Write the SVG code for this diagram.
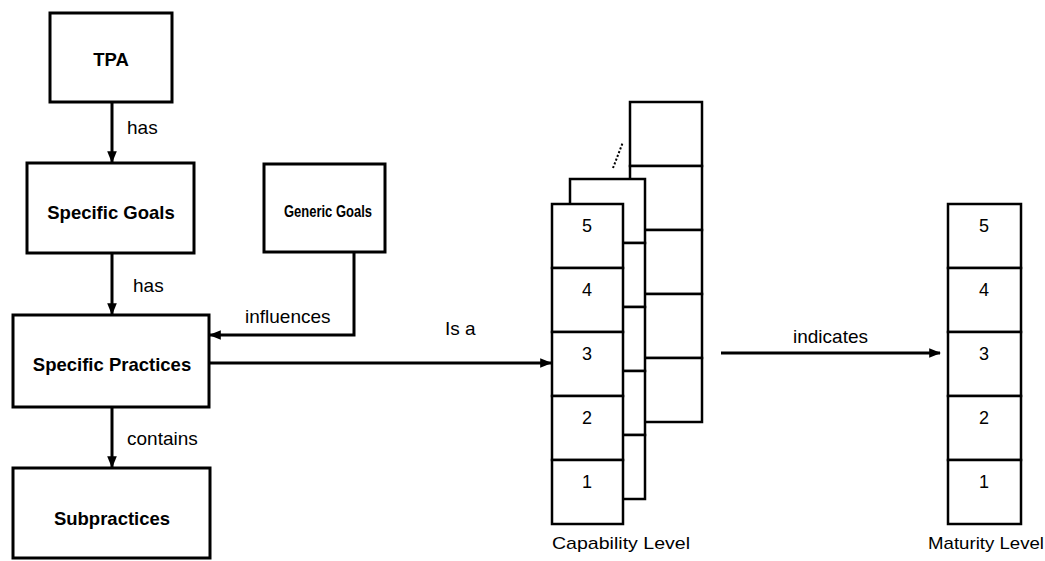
<svg xmlns="http://www.w3.org/2000/svg" width="1045" height="561" viewBox="0 0 1045 561">
<style>
.box{fill:#fff;stroke:#000;stroke-width:3}
.cell{fill:#fff;stroke:#000;stroke-width:2.5}
.node{font-family:"Liberation Sans",Arial,sans-serif;font-weight:bold;font-size:18.5px;text-anchor:middle;dominant-baseline:central;fill:#000}
.lbl{font-family:"Liberation Sans",Arial,sans-serif;font-size:19px;fill:#000}
.num{font-family:"Liberation Sans",Arial,sans-serif;font-size:18px;text-anchor:middle;fill:#000}
.conn{fill:none;stroke:#000;stroke-width:3}
</style>
<defs>
<marker id="ah" viewBox="0 0 10 10" refX="9" refY="5" markerWidth="4" markerHeight="4" orient="auto" markerUnits="strokeWidth">
<path d="M0,1 L10,5 L0,9 Z" fill="#000"/>
</marker>
</defs>
<g id="tpa"><rect class="box" x="50" y="13" width="122" height="89"/><text class="node" x="111" y="59">TPA</text></g>
<g id="specific-goals"><rect class="box" x="27" y="163" width="167" height="90"/><text class="node" x="111" y="212">Specific Goals</text></g>
<g id="generic-goals"><rect class="box" x="264" y="164" width="121" height="88"/><text class="node" x="328" y="211" textLength="88" lengthAdjust="spacingAndGlyphs" style="font-size:17px">Generic Goals</text></g>
<g id="specific-practices"><rect class="box" x="13" y="315" width="196" height="92"/><text class="node" x="112" y="364">Specific Practices</text></g>
<g id="subpractices"><rect class="box" x="13" y="468" width="197" height="90"/><text class="node" x="112" y="518">Subpractices</text></g>
<g id="capability-level">
<rect class="cell" x="630" y="102" width="72" height="64"/>
<rect class="cell" x="630" y="166" width="72" height="64"/>
<rect class="cell" x="630" y="230" width="72" height="64"/>
<rect class="cell" x="630" y="294" width="72" height="64"/>
<rect class="cell" x="630" y="358" width="72" height="64"/>
<rect class="cell" x="570" y="179" width="75" height="64"/>
<rect class="cell" x="570" y="243" width="75" height="64"/>
<rect class="cell" x="570" y="307" width="75" height="64"/>
<rect class="cell" x="570" y="371" width="75" height="64"/>
<rect class="cell" x="570" y="435" width="75" height="64"/>
<line x1="613" y1="168" x2="623" y2="142" stroke="#000" stroke-width="2" stroke-dasharray="2,2"/>
<rect class="cell" x="552" y="204" width="71" height="64"/>
<rect class="cell" x="552" y="268" width="71" height="64"/>
<rect class="cell" x="552" y="332" width="71" height="64"/>
<rect class="cell" x="552" y="396" width="71" height="64"/>
<rect class="cell" x="552" y="460" width="71" height="64"/>
<text class="num" x="587" y="232">5</text>
<text class="num" x="587" y="296">4</text>
<text class="num" x="587" y="360">3</text>
<text class="num" x="587" y="424">2</text>
<text class="num" x="587" y="488">1</text>
<text class="lbl" x="552" y="549" textLength="138" lengthAdjust="spacingAndGlyphs" style="font-size:17px">Capability Level</text>
</g>
<g id="maturity-level">
<rect class="cell" x="948" y="204" width="73" height="64"/>
<rect class="cell" x="948" y="268" width="73" height="64"/>
<rect class="cell" x="948" y="332" width="73" height="64"/>
<rect class="cell" x="948" y="396" width="73" height="64"/>
<rect class="cell" x="948" y="460" width="73" height="64"/>
<text class="num" x="984" y="232">5</text>
<text class="num" x="984" y="296">4</text>
<text class="num" x="984" y="360">3</text>
<text class="num" x="984" y="424">2</text>
<text class="num" x="984" y="488">1</text>
<text class="lbl" x="928" y="549" textLength="116" lengthAdjust="spacingAndGlyphs" style="font-size:17px">Maturity Level</text>
</g>
<g id="connectors">
<line class="conn" x1="112" y1="102" x2="112" y2="162" marker-end="url(#ah)"/>
<text class="lbl" x="127" y="134">has</text>
<line class="conn" x1="112" y1="253" x2="112" y2="314" marker-end="url(#ah)"/>
<text class="lbl" x="133" y="292">has</text>
<polyline class="conn" points="354,252 354,335 210,335" marker-end="url(#ah)"/>
<text class="lbl" x="245" y="323">influences</text>
<line class="conn" x1="209" y1="363" x2="551" y2="363" marker-end="url(#ah)"/>
<text class="lbl" x="445" y="335">Is a</text>
<line class="conn" x1="112" y1="407" x2="112" y2="467" marker-end="url(#ah)"/>
<text class="lbl" x="127" y="445">contains</text>
<line class="conn" x1="721" y1="353" x2="940" y2="353" marker-end="url(#ah)"/>
<text class="lbl" x="793" y="343">indicates</text>
</g>
</svg>
